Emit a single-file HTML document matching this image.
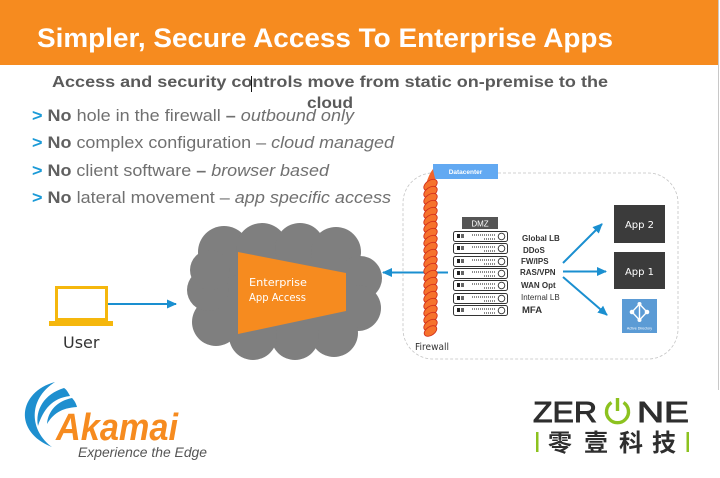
<!DOCTYPE html>
<html><head><meta charset="utf-8"><style>
html,body{margin:0;padding:0;background:#fff;}
svg{display:block;}
</style></head><body>
<svg width="720" height="478" viewBox="0 0 720 478" xmlns="http://www.w3.org/2000/svg" font-family="Liberation Sans, Arial, sans-serif">
<defs>
<marker id="ah" markerWidth="10" markerHeight="10" refX="9" refY="5" orient="auto" markerUnits="userSpaceOnUse"><path d="M0,0.5 L10,5 L0,9.5 z" fill="#1a8fd0"/></marker>
</defs>
<rect width="720" height="478" fill="#fff"/>
<!-- header -->
<rect x="0" y="0" width="718" height="65" fill="#f68b1f"/>
<line x1="718.5" y1="0" x2="718.5" y2="390" stroke="#c8c8c8" stroke-width="1"/>
<text x="37" y="47" font-size="27" font-weight="bold" fill="#fff" textLength="576" lengthAdjust="spacingAndGlyphs">Simpler, Secure Access To Enterprise Apps</text>
<!-- subtitle -->
<text x="52" y="87" font-size="16" font-weight="bold" fill="#5a5a5a" textLength="556" lengthAdjust="spacingAndGlyphs">Access and security controls move from static on-premise to the</text>
<text x="307" y="108" font-size="16" font-weight="bold" fill="#5a5a5a" textLength="46" lengthAdjust="spacingAndGlyphs">cloud</text>
<line x1="251.5" y1="76" x2="251.5" y2="92" stroke="#111" stroke-width="1"/>
<!-- bullets -->
<g font-size="17" fill="#707070">
<text x="32" y="121" textLength="322" lengthAdjust="spacingAndGlyphs"><tspan fill="#1b9ad7" font-weight="bold">&gt;</tspan> <tspan font-weight="bold" fill="#606060">No</tspan> hole in the firewall <tspan font-weight="bold">–</tspan> <tspan font-style="italic">outbound only</tspan></text>
<text x="32" y="148" textLength="362" lengthAdjust="spacingAndGlyphs"><tspan fill="#1b9ad7" font-weight="bold">&gt;</tspan> <tspan font-weight="bold" fill="#606060">No</tspan> complex configuration – <tspan font-style="italic">cloud managed</tspan></text>
<text x="32" y="176" textLength="297" lengthAdjust="spacingAndGlyphs"><tspan fill="#1b9ad7" font-weight="bold">&gt;</tspan> <tspan font-weight="bold" fill="#606060">No</tspan> client software <tspan font-weight="bold">–</tspan> <tspan font-style="italic">browser based</tspan></text>
<text x="32" y="203" textLength="359" lengthAdjust="spacingAndGlyphs"><tspan fill="#1b9ad7" font-weight="bold">&gt;</tspan> <tspan font-weight="bold" fill="#606060">No</tspan> lateral movement – <tspan font-style="italic">app specific access</tspan></text>
</g>
<!-- laptop -->
<rect x="56.5" y="287.5" width="50" height="32" fill="none" stroke="#f5b70d" stroke-width="3"/>
<rect x="49" y="321" width="64" height="5" fill="#f5b70d"/>
<line x1="108" y1="304" x2="176" y2="304" stroke="#1a8fd0" stroke-width="2" marker-end="url(#ah)"/>
<text x="63" y="348" font-size="16" fill="#333" font-family="DejaVu Sans, Liberation Sans, sans-serif">User</text>
<!-- cloud -->
<g fill="#7f7f7f">
<ellipse cx="285" cy="292" rx="85" ry="55"/>
<circle cx="224" cy="252" r="26"/>
<circle cx="262" cy="249" r="26"/>
<circle cx="300" cy="248" r="25"/>
<circle cx="336" cy="252" r="25"/>
<circle cx="360" cy="278" r="22"/>
<circle cx="358" cy="308" r="23"/>
<circle cx="334" cy="333" r="24"/>
<circle cx="295" cy="336" r="24"/>
<circle cx="253" cy="336" r="24"/>
<circle cx="216" cy="322" r="24"/>
<circle cx="208" cy="290" r="21"/>
<circle cx="210" cy="270" r="20"/>
</g>
<polygon points="238,252 346,273 346,311 238,334" fill="#f68b1f"/>
<text x="249" y="286" font-size="11" fill="#fff" font-family="DejaVu Sans, Liberation Sans, sans-serif" textLength="58" lengthAdjust="spacingAndGlyphs">Enterprise</text>
<text x="249" y="301" font-size="11" fill="#fff" font-family="DejaVu Sans, Liberation Sans, sans-serif" textLength="57" lengthAdjust="spacingAndGlyphs">App Access</text>
<!-- arrow into cloud -->
<line x1="448" y1="272.5" x2="383" y2="272.5" stroke="#1a8fd0" stroke-width="2" marker-end="url(#ah)"/>
<!-- datacenter box -->
<rect x="403" y="173" width="275" height="186" rx="30" fill="none" stroke="#c4c4c4" stroke-width="0.8" stroke-dasharray="3 2"/>
<rect x="433" y="164" width="65" height="15" fill="#62a9f2"/>
<text x="465.5" y="174" font-size="6.5" font-weight="bold" fill="#fff" text-anchor="middle">Datacenter</text>
<!-- firewall rope -->
<g>
<path d="M426,184 Q429,174 433,169 Q434,176 437,184 Z" fill="#f4632a"/>
<g fill="#f6722c" stroke="#d3301c" stroke-width="0.9">
<ellipse cx="430.5" cy="185" rx="7.5" ry="4.6" transform="rotate(-35 430.5 185)"/>
<ellipse cx="430.5" cy="192" rx="7.5" ry="4.6" transform="rotate(-35 430.5 192)"/>
<ellipse cx="430.5" cy="199" rx="7.5" ry="4.6" transform="rotate(-35 430.5 199)"/>
<ellipse cx="430.5" cy="206" rx="7.5" ry="4.6" transform="rotate(-35 430.5 206)"/>
<ellipse cx="430.5" cy="213" rx="7.5" ry="4.6" transform="rotate(-35 430.5 213)"/>
<ellipse cx="430.5" cy="220" rx="7.5" ry="4.6" transform="rotate(-35 430.5 220)"/>
<ellipse cx="430.5" cy="227" rx="7.5" ry="4.6" transform="rotate(-35 430.5 227)"/>
<ellipse cx="430.5" cy="234" rx="7.5" ry="4.6" transform="rotate(-35 430.5 234)"/>
<ellipse cx="430.5" cy="241" rx="7.5" ry="4.6" transform="rotate(-35 430.5 241)"/>
<ellipse cx="430.5" cy="248" rx="7.5" ry="4.6" transform="rotate(-35 430.5 248)"/>
<ellipse cx="430.5" cy="255" rx="7.5" ry="4.6" transform="rotate(-35 430.5 255)"/>
<ellipse cx="430.5" cy="262" rx="7.5" ry="4.6" transform="rotate(-35 430.5 262)"/>
<ellipse cx="430.5" cy="269" rx="7.5" ry="4.6" transform="rotate(-35 430.5 269)"/>
<ellipse cx="430.5" cy="276" rx="7.5" ry="4.6" transform="rotate(-35 430.5 276)"/>
<ellipse cx="430.5" cy="283" rx="7.5" ry="4.6" transform="rotate(-35 430.5 283)"/>
<ellipse cx="430.5" cy="290" rx="7.5" ry="4.6" transform="rotate(-35 430.5 290)"/>
<ellipse cx="430.5" cy="297" rx="7.5" ry="4.6" transform="rotate(-35 430.5 297)"/>
<ellipse cx="430.5" cy="304" rx="7.5" ry="4.6" transform="rotate(-35 430.5 304)"/>
<ellipse cx="430.5" cy="311" rx="7.5" ry="4.6" transform="rotate(-35 430.5 311)"/>
<ellipse cx="430.5" cy="318" rx="7.5" ry="4.6" transform="rotate(-35 430.5 318)"/>
<ellipse cx="430.5" cy="325" rx="7.5" ry="4.6" transform="rotate(-35 430.5 325)"/>
<ellipse cx="430.5" cy="331" rx="7" ry="4.3" transform="rotate(-35 430.5 331)"/>
</g>
</g>
<text x="415" y="350" font-size="10" fill="#333" font-family="DejaVu Sans, Liberation Sans, sans-serif" textLength="34" lengthAdjust="spacingAndGlyphs">Firewall</text>
<!-- DMZ -->
<rect x="462" y="217" width="36" height="12" fill="#555"/>
<text x="480" y="226.5" font-size="8" fill="#fff" text-anchor="middle">DMZ</text>
<!-- servers -->
<g>
<g stroke="#333" stroke-width="1" fill="#fff">
<rect x="453.5" y="231.5" width="54" height="10" rx="2"/>
<rect x="453.5" y="243.5" width="54" height="10" rx="2"/>
<rect x="453.5" y="256.5" width="54" height="10" rx="2"/>
<rect x="453.5" y="268.5" width="54" height="10" rx="2"/>
<rect x="453.5" y="280.5" width="54" height="10" rx="2"/>
<rect x="453.5" y="293.5" width="54" height="10" rx="2"/>
<rect x="453.5" y="305.5" width="54" height="10" rx="2"/>
</g>
<g fill="#222">
<rect x="457" y="234" width="3" height="4"/><rect x="461" y="234" width="3" height="4" fill="#666"/>
<rect x="457" y="246" width="3" height="4"/><rect x="461" y="246" width="3" height="4" fill="#666"/>
<rect x="457" y="259" width="3" height="4"/><rect x="461" y="259" width="3" height="4" fill="#666"/>
<rect x="457" y="271" width="3" height="4"/><rect x="461" y="271" width="3" height="4" fill="#666"/>
<rect x="457" y="283" width="3" height="4"/><rect x="461" y="283" width="3" height="4" fill="#666"/>
<rect x="457" y="296" width="3" height="4"/><rect x="461" y="296" width="3" height="4" fill="#666"/>
<rect x="457" y="308" width="3" height="4"/><rect x="461" y="308" width="3" height="4" fill="#666"/>
</g>
<g stroke="#444" stroke-width="1.2" stroke-dasharray="1 1">
<line x1="472" y1="235" x2="496" y2="235"/><line x1="484" y1="239" x2="496" y2="239"/>
<line x1="472" y1="247" x2="496" y2="247"/><line x1="484" y1="251" x2="496" y2="251"/>
<line x1="472" y1="260" x2="496" y2="260"/><line x1="484" y1="264" x2="496" y2="264"/>
<line x1="472" y1="272" x2="496" y2="272"/><line x1="484" y1="276" x2="496" y2="276"/>
<line x1="472" y1="284" x2="496" y2="284"/><line x1="484" y1="288" x2="496" y2="288"/>
<line x1="472" y1="297" x2="496" y2="297"/><line x1="484" y1="301" x2="496" y2="301"/>
<line x1="472" y1="309" x2="496" y2="309"/><line x1="484" y1="313" x2="496" y2="313"/>
</g>
<g fill="none" stroke="#333" stroke-width="0.9">
<circle cx="501.5" cy="236.5" r="3.3"/><circle cx="501.5" cy="248.5" r="3.3"/><circle cx="501.5" cy="261.5" r="3.3"/>
<circle cx="501.5" cy="273.5" r="3.3"/><circle cx="501.5" cy="285.5" r="3.3"/><circle cx="501.5" cy="298.5" r="3.3"/>
<circle cx="501.5" cy="310.5" r="3.3"/>
</g>
</g>
<!-- labels -->
<g font-size="8" font-weight="bold" fill="#333">
<text x="522" y="241">Global LB</text>
<text x="523" y="253">DDoS</text>
<text x="521" y="264">FW/IPS</text>
<text x="520" y="275">RAS/VPN</text>
<text x="521" y="288">WAN Opt</text>
<text x="521" y="300" font-weight="normal">Internal LB</text>
<text x="522" y="313" font-size="9.5">MFA</text>
</g>
<!-- arrows to apps -->
<g stroke="#1a8fd0" stroke-width="2" fill="none">
<line x1="563" y1="263" x2="602" y2="224" marker-end="url(#ah)"/>
<line x1="563" y1="271.5" x2="606" y2="271.5" marker-end="url(#ah)"/>
<line x1="563" y1="277" x2="607" y2="315" marker-end="url(#ah)"/>
</g>
<!-- apps -->
<rect x="614" y="205" width="51" height="38" fill="#3b3b3b"/>
<text x="639.5" y="228" font-size="10" fill="#fff" text-anchor="middle" font-family="DejaVu Sans, Liberation Sans, sans-serif">App 2</text>
<rect x="614" y="252" width="51" height="37" fill="#3b3b3b"/>
<text x="639.5" y="275" font-size="10" fill="#fff" text-anchor="middle" font-family="DejaVu Sans, Liberation Sans, sans-serif">App 1</text>
<rect x="622" y="299" width="35" height="34" fill="#5b9bd5"/>
<g stroke="#fff" stroke-width="1.4" fill="none">
<path d="M639.5,304 L632,312 L639.5,320 L647,312 Z"/>
<line x1="639.5" y1="304" x2="639.5" y2="320"/>
</g>
<g fill="#fff">
<circle cx="639.5" cy="304" r="2"/><circle cx="632" cy="312" r="2.3"/><circle cx="647" cy="312" r="2.3"/><circle cx="639.5" cy="320" r="2"/>
</g>
<text x="639.5" y="329.5" font-size="3.6" fill="#fff" text-anchor="middle">Active Directory</text>
<!-- Akamai logo -->
<g fill="#1e8fcf">
<path d="M55,382 C18,392 13,432 52,447 C30,431 27,400 55,382 Z"/>
<path d="M64,388 C44,394 35,410 38,426 C43,410 52,398 70,396 C68,392 66,389 64,388 Z"/>
<path d="M72,398 C57,401 48,411 47,424 C53,414 61,408 77,407 C76,403 74,400 72,398 Z"/>
</g>
<text x="56" y="440" font-size="38" font-weight="bold" font-style="italic" fill="#f68b1f" textLength="122" lengthAdjust="spacingAndGlyphs">Akamai</text>
<text x="78" y="457" font-size="14" font-style="italic" fill="#555" textLength="129" lengthAdjust="spacingAndGlyphs">Experience the Edge</text>
<!-- ZERONE logo -->
<text x="533" y="422" font-size="29" fill="#2e2e2e" stroke="#2e2e2e" stroke-width="0.9" textLength="64" lengthAdjust="spacingAndGlyphs">ZER</text>
<path d="M611.5,402.5 A11,11 0 1 0 623.5,402.5" fill="none" stroke="#8cc21f" stroke-width="3.4"/>
<line x1="617.5" y1="398" x2="617.5" y2="411" stroke="#8cc21f" stroke-width="3.4"/>
<text x="637" y="422" font-size="29" fill="#2e2e2e" stroke="#2e2e2e" stroke-width="0.9" textLength="52" lengthAdjust="spacingAndGlyphs">NE</text>
<rect x="536" y="432" width="2.5" height="20" fill="#8cc21f"/>
<rect x="686.5" y="432" width="2.5" height="20" fill="#8cc21f"/>
<g font-size="24" fill="#2e2e2e" font-weight="bold" font-family="Noto Sans CJK SC, WenQuanYi Zen Hei, sans-serif">
<text x="548" y="451">零</text>
<text x="584" y="451">壹</text>
<text x="619" y="451">科</text>
<text x="652" y="451">技</text>
</g>
</svg>
</body></html>
